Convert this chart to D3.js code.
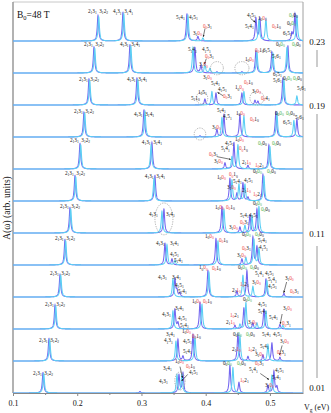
<!DOCTYPE html>
<html lang="en">
<head>
<meta charset="UTF-8">
<title>A(w) spectra</title>
<script src="https://cdn.jsdelivr.net/npm/d3@7"></script>
<style>
    body { margin: 0; background: #fff; }
    svg { display: block; font-family: "Liberation Serif", "DejaVu Serif", serif; }
</style>
</head>
<body>
<svg id="chart"></svg>
<script>
// one spectrum per row, top to bottom
var fields = [0.23, 0.21, 0.19, 0.17, 0.15, 0.13, 0.11, 0.09, 0.07, 0.05, 0.03, 0.01];
var fieldLabels = ["0.23", "0.19", "0.11", "0.01"];
var fieldLabelRows = [0, 2, 6, 11];
var xTicks = [0.1, 0.2, 0.3, 0.4, 0.5];
var xMinorTicks = [0.15, 0.25, 0.35, 0.45];

// peaks: [Vg (eV), height (arb.)]
var purplePeaks = [
    [[0.2323, 0.85], [0.2712, 0.95], [0.3708, 0.9], [0.3879, 0.15], [0.4782, 0.75], [0.4844, 0.75], [0.5342, 0.25], [0.5389, 0.9]],
    [[0.2261, 0.87], [0.2821, 0.95], [0.3833, 0.85], [0.3926, 0.25], [0.4175, 0.04], [0.4564, 0.04], [0.4782, 0.75], [0.5031, 0.7], [0.5280, 0.9]],
    [[0.2183, 0.87], [0.2930, 0.9], [0.3988, 0.2], [0.4160, 0.4], [0.4564, 0.4], [0.4767, 0.15], [0.4813, 0.12], [0.5202, 0.9]],
    [[0.2105, 0.83], [0.3039, 0.9], [0.3911, 0.04], [0.4175, 0.25], [0.4284, 0.75], [0.4533, 0.75], [0.5093, 0.85], [0.5420, 0.6]],
    [[0.2043, 0.85], [0.3163, 0.88], [0.4300, 0.2], [0.4440, 0.88], [0.4658, 0.12], [0.4984, 0.8]],
    [[0.1965, 0.85], [0.3210, 0.85], [0.4377, 0.75], [0.4486, 0.25], [0.4580, 0.6], [0.4658, 0.12], [0.4891, 0.88]],
    [[0.1887, 0.85], [0.3350, 0.8], [0.4253, 0.88], [0.4533, 0.2], [0.4689, 0.6], [0.4798, 0.8]],
    [[0.1809, 0.85], [0.3366, 0.72], [0.3475, 0.2], [0.4160, 0.88], [0.4564, 0.2], [0.4735, 0.92], [0.4798, 0.6]],
    [[0.1732, 0.75], [0.3521, 0.6], [0.3553, 0.2], [0.3599, 0.12], [0.4035, 0.88], [0.4486, 0.2], [0.4642, 0.88], [0.4938, 0.6], [0.5218, 0.12]],
    [[0.1654, 0.8], [0.3521, 0.66], [0.3568, 0.2], [0.3911, 0.88], [0.4455, 0.12], [0.4595, 0.7], [0.4735, 0.2], [0.4907, 0.66], [0.5156, 0.15]],
    [[0.1560, 0.75], [0.3568, 0.72], [0.3646, 0.15], [0.3802, 0.88], [0.4502, 0.92], [0.4658, 0.15], [0.4891, 0.2], [0.5031, 0.6], [0.5156, 0.12]],
    [[0.1467, 0.68], [0.2977, 0.05], [0.3584, 0.6], [0.3646, 0.66], [0.4377, 0.92], [0.4518, 0.35], [0.4969, 0.25], [0.5062, 0.72], [0.5109, 0.2]]
];
var cyanPeaks = [
    [[0.2335, 0.8], [0.2725, 0.9], [0.3724, 0.85], [0.3957, 0.1], [0.4829, 0.7], [0.4938, 0.75], [0.5420, 0.85]],
    [[0.2273, 0.82], [0.2835, 0.9], [0.3802, 0.85], [0.3988, 0.3], [0.4066, 0.15], [0.4798, 0.7], [0.5047, 0.65], [0.5265, 0.85]],
    [[0.2195, 0.82], [0.2945, 0.85], [0.4097, 0.45], [0.4595, 0.45], [0.5218, 0.85], [0.5420, 0.3]],
    [[0.2117, 0.8], [0.3055, 0.85], [0.4253, 0.65], [0.4595, 0.7], [0.5109, 0.8], [0.5373, 0.55]],
    [[0.2055, 0.8], [0.3150, 0.8], [0.4409, 0.4], [0.4502, 0.8], [0.5000, 0.75]],
    [[0.1977, 0.8], [0.3195, 0.75], [0.4409, 0.7], [0.4518, 0.55], [0.4611, 0.55], [0.4907, 0.82]],
    [[0.1899, 0.8], [0.3319, 0.72], [0.4284, 0.8], [0.4611, 0.25], [0.4720, 0.55], [0.4829, 0.88]],
    [[0.1821, 0.8], [0.3397, 0.68], [0.3521, 0.15], [0.4191, 0.8], [0.4626, 0.25], [0.4751, 0.85], [0.4829, 0.55]],
    [[0.1744, 0.72], [0.3490, 0.6], [0.4051, 0.82], [0.4580, 0.72], [0.4735, 0.35], [0.4953, 0.55]],
    [[0.1666, 0.76], [0.3490, 0.6], [0.3942, 0.82], [0.4533, 0.15], [0.4626, 0.88], [0.4798, 0.2], [0.4938, 0.6], [0.5202, 0.12]],
    [[0.1572, 0.72], [0.3537, 0.66], [0.3833, 0.82], [0.4533, 0.85], [0.4969, 0.55]],
    [[0.1479, 0.65], [0.3553, 0.6], [0.3630, 0.6], [0.4424, 0.85], [0.5031, 0.6]]
];

// state labels: [row, Vg, height, text, anchor]; "r"/"g" prefix = red/green
var peakLabels = [
    [0, 0.2323, 0.95, "2_1 3_1", "e"], [0, 0.2323, 0.95, "3_1 2_2", "s"],
    [0, 0.2712, 0.92, "4_1 3_1", "e"], [0, 0.2712, 0.92, "3_1 4_1", "s"],
    [0, 0.3693, 0.73, "5_1 4_1", "e"], [0, 0.3739, 0.73, "4_1 5_1"],
    [0, 0.3802, 0.2, "3_1 r0_0"], [0, 0.3957, 0.45, "r0_0 3_1"],
    [0, 0.4642, 0.8, "4_1 5_1"], [0, 0.4611, 0.45, "5_1 4_1"],
    [0, 0.4813, 0.7, "1_0 r0_0"], [0, 0.5031, 0.45, "r0_0 1_0"],
    [0, 0.5202, 0.2, "6_1 5_1"], [0, 0.5296, 0.8, "g0_0 0_0"], [0, 0.5265, 0.55, "0_0 g0_0"],

    [1, 0.2261, 0.9, "2_1 3_1", "e"], [1, 0.2261, 0.9, "3_1 2_2", "s"],
    [1, 0.2821, 0.9, "4_1 3_1", "e"], [1, 0.2821, 0.9, "3_1 4_1", "s"],
    [1, 0.3724, 0.72, "5_1 4_1"], [1, 0.3942, 0.72, "4_1 5_1"],
    [1, 0.3895, 0.22, "3_1 r0_0"], [1, 0.3988, 0.5, "r0_0 3_1"],
    [1, 0.4611, 0.4, "1_0 r0_0"], [1, 0.4767, 0.7, "r0_0 1_0"],
    [1, 0.4891, 0.7, "6_1 5_1"], [1, 0.5031, 0.5, "5_1 6_1"],
    [1, 0.5093, 0.9, "0_0 g0_0"], [1, 0.5342, 0.9, "g0_0 0_0"],

    [2, 0.2183, 0.8, "2_1 3_1", "e"], [2, 0.2183, 0.8, "3_1 2_2", "s"],
    [2, 0.2930, 0.8, "4_1 3_1", "e"], [2, 0.2930, 0.8, "3_1 4_1", "s"],
    [2, 0.3957, 0.88, "3_1 r0_0"], [2, 0.4082, 0.67, "5_1 4_1"], [2, 0.4191, 0.46, "4_1 5_1"],
    [2, 0.3880, 0.37, "1_0 5_1"], [2, 0.3770, 0.17, "5_1 1_0"], [2, 0.4268, 0.25, "r0_0 3_1"],
    [2, 0.4456, 0.52, "1_0 r0_0"], [2, 0.4595, 0.7, "r0_0 1_0"],
    [2, 0.4720, 0.4, "3_1 r0_0"], [2, 0.4860, 0.17, "r0_0 4_1"],
    [2, 0.5047, 0.97, "6_1 5_1"], [2, 0.5047, 0.77, "5_1 6_1"],
    [2, 0.5202, 0.85, "0_0 g0_0"], [2, 0.5358, 0.85, "g0_0 0_0"], [2, 0.5420, 0.5, "5_1 6_1"],

    [3, 0.2105, 0.8, "2_1 3_1", "e"], [3, 0.2105, 0.8, "3_1 2_2", "s"],
    [3, 0.3039, 0.7, "4_1 3_1", "e"], [3, 0.3039, 0.7, "3_1 4_1", "s"],
    [3, 0.4097, 0.27, "3_1 r0_0"], [3, 0.4175, 0.85, "5_1 4_1"], [3, 0.4268, 0.62, "4_1 5_1"],
    [3, 0.4471, 0.75, "1_0 r0_0"], [3, 0.4689, 0.55, "r0_0 1_0"],
    [3, 0.5078, 0.75, "0_0 g0_0"], [3, 0.5249, 0.75, "g0_0 0_0"],
    [3, 0.5202, 0.45, "6_1 5_1"], [3, 0.5389, 0.6, "5_1 6_1"],

    [4, 0.2043, 0.9, "2_1 3_1", "e"], [4, 0.2043, 0.9, "3_1 2_2", "s"],
    [4, 0.3163, 0.85, "4_1 3_1", "e"], [4, 0.3163, 0.85, "3_1 4_1", "s"],
    [4, 0.4455, 0.95, "1_0 r0_0"], [4, 0.4300, 0.8, "4_1 5_1"], [4, 0.4237, 0.62, "5_1 4_1"],
    [4, 0.4518, 0.62, "r0_0 1_0"], [4, 0.4050, 0.45, "r0_0 3_1"], [4, 0.4128, 0.2, "3_1 r0_0"],
    [4, 0.4564, 0.17, "2_1 r1_0"], [4, 0.4767, 0.08, "r1_0 2_1"],
    [4, 0.4813, 0.8, "g0_0 0_0"], [4, 0.5031, 0.8, "g0_0 0_0"],

    [5, 0.1965, 0.87, "2_1 3_1", "e"], [5, 0.1965, 0.87, "3_1 2_2", "s"],
    [5, 0.3210, 0.77, "4_1 3_1", "e"], [5, 0.3210, 0.77, "3_1 4_1", "s"],
    [5, 0.4175, 0.75, "1_0 r0_0"], [5, 0.4362, 0.82, "r0_0 1_0"],
    [5, 0.4424, 0.6, "5_1 4_1"], [5, 0.4595, 0.64, "4_1 5_1"], [5, 0.4331, 0.4, "3_1 r0_0"],
    [5, 0.4564, 0.3, "2_1 r1_0"], [5, 0.4735, 0.18, "r1_0 2_1"],
    [5, 0.4735, 0.95, "0_0 g0_0"], [5, 0.4953, 0.95, "g0_0 0_0"],

    [6, 0.1887, 0.83, "2_1 3_1", "e"], [6, 0.1887, 0.83, "3_1 2_2", "s"],
    [6, 0.3117, 0.57, "4_1 3_1"], [6, 0.3381, 0.57, "3_1 4_1"],
    [6, 0.4144, 0.8, "1_0 r0_0"], [6, 0.4315, 0.8, "r0_0 1_0"],
    [6, 0.4533, 0.55, "5_1 4_1"], [6, 0.4673, 0.55, "4_1 5_1"],
    [6, 0.4735, 0.95, "0_0 g0_0"], [6, 0.4860, 0.74, "g0_0 0_0"],
    [6, 0.4362, 0.15, "3_1 r0_0"], [6, 0.4533, 0.3, "r0_0 3_1"],

    [7, 0.1809, 0.83, "2_1 3_1", "e"], [7, 0.1809, 0.83, "3_1 2_2", "s"],
    [7, 0.3226, 0.67, "4_1 3_1"], [7, 0.3444, 0.67, "3_1 4_1"],
    [7, 0.3444, 0.3, "4_1 5_1"], [7, 0.3506, 0.1, "5_1 4_1"],
    [7, 0.3988, 0.9, "1_0 r0_0"], [7, 0.4206, 0.77, "r0_0 1_0"],
    [7, 0.4564, 0.97, "0_0 g0_0"], [7, 0.4767, 0.97, "g0_0 0_0"],
    [7, 0.4813, 0.76, "5_1 4_1"], [7, 0.4829, 0.52, "4_1 5_1"],
    [7, 0.4486, 0.28, "3_1 r0_0"], [7, 0.4564, 0.5, "r0_0 3_1"],

    [8, 0.1732, 0.75, "2_1 3_1", "e"], [8, 0.1732, 0.75, "3_1 2_2", "s"],
    [8, 0.3257, 0.6, "4_1 3_1"], [8, 0.3475, 0.6, "3_1 4_1"],
    [8, 0.3521, 0.35, "4_1 5_1"], [8, 0.3568, 0.15, "5_1 4_1"],
    [8, 0.3895, 0.92, "1_0 r0_0"], [8, 0.4097, 0.9, "r0_0 1_0"],
    [8, 0.4502, 0.95, "0_0 g0_0"], [8, 0.4689, 0.95, "g0_0 0_0"],
    [8, 0.4767, 0.72, "5_1 4_1"], [8, 0.4922, 0.75, "4_1 5_1"],
    [8, 0.4533, 0.38, "r1_0 2_1"], [8, 0.4408, 0.17, "2_1 r1_0"], [8, 0.4720, 0.45, "3_1 r0_0"],
    [8, 0.4969, 0.52, "5_1 4_1"], [8, 0.4969, 0.3, "4_1 5_1"],
    [8, 0.5233, 0.57, "3_1 r0_0"], [8, 0.5311, 0.14, "r0_0 3_1"],

    [9, 0.1654, 0.77, "2_1 3_1", "e"], [9, 0.1654, 0.77, "3_1 2_2", "s"],
    [9, 0.3319, 0.45, "4_1 3_1"], [9, 0.3521, 0.63, "3_1 4_1"],
    [9, 0.3568, 0.3, "4_1 5_1"], [9, 0.3599, 0.07, "5_1 4_1"],
    [9, 0.3786, 0.87, "1_0 r0_0"], [9, 0.3957, 0.87, "r0_0 1_0"],
    [9, 0.4580, 0.95, "0_0 g0_0"],
    [9, 0.4377, 0.4, "r1_0 2_1"], [9, 0.4315, 0.17, "2_1 r1_0"], [9, 0.4658, 0.17, "3_1 r0_0"],
    [9, 0.4813, 0.77, "4_1 5_1"], [9, 0.4813, 0.55, "5_1 4_1"], [9, 0.4984, 0.35, "5_1 4_1"],
    [9, 0.5202, 0.63, "3_1 r0_0"], [9, 0.5187, 0.12, "r0_0 3_1"],

    [10, 0.1560, 0.65, "2_1 3_1", "e"], [10, 0.1560, 0.65, "3_1 2_2", "s"],
    [10, 0.3381, 0.85, "3_1 4_1"], [10, 0.3350, 0.62, "4_1 3_1"],
    [10, 0.3630, 0.93, "1_0 r0_0"], [10, 0.3786, 0.76, "r0_0 1_0"],
    [10, 0.3646, 0.6, "4_1 5_1"], [10, 0.3646, 0.27, "5_1 4_1"],
    [10, 0.4424, 0.85, "0_0 g0_0"], [10, 0.4626, 0.85, "g0_0 0_0"],
    [10, 0.4408, 0.35, "2_1 r1_0"], [10, 0.4658, 0.35, "r1_0 2_1"],
    [10, 0.4875, 0.85, "5_1 4_1"], [10, 0.5047, 0.85, "4_1 5_1"], [10, 0.5156, 0.6, "3_1 r0_0"],
    [10, 0.4844, 0.45, "5_1 4_1"], [10, 0.4767, 0.17, "3_1 r0_0"], [10, 0.5109, 0.22, "r0_0 3_1"],

    [11, 0.1467, 0.6, "2_1 3_1", "e"], [11, 0.1467, 0.6, "3_1 2_2", "s"],
    [11, 0.3335, 0.77, "3_1 4_1"], [11, 0.3272, 0.33, "4_1 3_1"],
    [11, 0.3521, 1.0, "1_0 r0_0"], [11, 0.3693, 0.85, "r0_0 1_0"], [11, 0.3739, 0.65, "4_1 5_1"],
    [11, 0.4268, 0.95, "0_0 g0_0"], [11, 0.4486, 0.95, "g0_0 0_0"],
    [11, 0.4533, 0.37, "r1_0 2_1"], [11, 0.4767, 0.95, "r0_0 3_1"],
    [11, 0.4673, 0.72, "5_1 4_1"], [11, 0.5078, 0.7, "4_1 5_1"],
    [11, 0.5031, 0.48, "5_1 4_1"], [11, 0.4922, 0.2, "3_1 r0_0"]
];

// arrows: [row, Vg from, height from, Vg to, height to]
var arrows = [
    [0, 0.3990, 0.42, 0.3962, 0.14],
    [0, 0.4700, 0.75, 0.4775, 0.62],
    [1, 0.4010, 0.48, 0.3980, 0.3],
    [2, 0.4270, 0.31, 0.4185, 0.42],
    [4, 0.4180, 0.41, 0.4390, 0.32],
    [8, 0.5260, 0.5, 0.5215, 0.14],
    [9, 0.5190, 0.5, 0.5160, 0.17],
    [10, 0.5190, 0.52, 0.5150, 0.2],
    [11, 0.3600, 0.88, 0.3640, 0.5],
    [11, 0.3720, 0.62, 0.3625, 0.4],
    [11, 0.4850, 0.65, 0.4985, 0.45]
];

// dashed circles: [row, Vg, height, Vg radius, height radius]
var circles = [
    [1, 0.4175, 0.16, 0.010, 0.22],
    [1, 0.4564, 0.16, 0.011, 0.22],
    [2, 0.3942, 0.23, 0.009, 0.2],
    [2, 0.4798, 0.23, 0.011, 0.23],
    [3, 0.3911, 0.1, 0.009, 0.2],
    [6, 0.3350, 0.47, 0.014, 0.53],
    [11, 0.3599, 0.4, 0.008, 0.3]
];

var width = 331, height = 413;
var gamma = 0.0013;

var svg = d3.select("#chart").attr("width", width).attr("height", height);

var x = d3.scaleLinear().domain([0.1, 0.5515]).range([13, 303]);
var rowY = d3.scaleLinear().domain([0, fields.length - 1]).range([41, 393]);
var amp = d3.scaleLinear().domain([0, 1]).range([0, 30]);

// frame
svg.append("line").attr("x1", 13).attr("x2", 303).attr("y1", 2).attr("y2", 2).attr("stroke", "#c8c8c8");
svg.append("line").attr("x1", 303).attr("x2", 303).attr("y1", 2).attr("y2", 393).attr("stroke", "#a0a0a0");
svg.append("line").attr("x1", 13).attr("x2", 13).attr("y1", 2).attr("y2", 393).attr("stroke", "#999").attr("stroke-width", 1.5);

// spectra
var grid = d3.range(0.1, 0.5515, 0.00015);
function spectrum(peaks) {
    var vs = grid.concat(peaks.map(p => p[0])).sort(d3.ascending);
    return vs.map(function (v) {
        var s = 0;
        peaks.forEach(function (p) {
            var d = v - p[0];
            s += p[1] * gamma * gamma / (d * d + gamma * gamma);
        });
        return [v, Math.min(s, 1.1)];
    });
}

var plot = svg.append("g");
fields.forEach(function (f, i) {
    var line = d3.line().x(d => x(d[0])).y(d => rowY(i) - amp(d[1]));
    plot.append("path").attr("d", line(spectrum(purplePeaks[i])))
        .attr("fill", "none").attr("stroke", "#7467f0").attr("stroke-width", 1.1);
    plot.append("path").attr("d", line(spectrum(cyanPeaks[i])))
        .attr("fill", "none").attr("stroke", "#5ccff4").attr("stroke-width", 1.1);
});

// dashed circles
svg.selectAll(".ring").data(circles).enter().append("ellipse")
    .attr("cx", d => x(d[1]))
    .attr("cy", d => rowY(d[0]) - amp(d[2]))
    .attr("rx", d => x(d[1] + d[3]) - x(d[1]))
    .attr("ry", d => amp(d[4]))
    .attr("fill", "none").attr("stroke", "#999").attr("stroke-width", 0.8)
    .attr("stroke-dasharray", "1.2,1.2");

// arrows
svg.append("defs").append("marker").attr("id", "head")
    .attr("viewBox", "0 0 10 10").attr("refX", 9).attr("refY", 5)
    .attr("markerWidth", 4).attr("markerHeight", 4).attr("orient", "auto")
    .append("path").attr("d", "M0,1L10,5L0,9z").attr("fill", "#222");
svg.selectAll(".arrow").data(arrows).enter().append("line")
    .attr("x1", d => x(d[1])).attr("y1", d => rowY(d[0]) - amp(d[2]))
    .attr("x2", d => x(d[3])).attr("y2", d => rowY(d[0]) - amp(d[4]))
    .attr("stroke", "#222").attr("stroke-width", 0.6).attr("marker-end", "url(#head)");

// state labels
var colors = { r: "#ee4040", g: "#3fb04a" };
var labels = svg.append("g").attr("font-size", 5.2);
peakLabels.forEach(function (d) {
    var pad = d[4] === "e" ? -1.3 : d[4] === "s" ? 1.3 : 0;
    var t = labels.append("text")
        .attr("x", x(d[1]) + pad)
        .attr("y", rowY(d[0]) - amp(d[2]))
        .attr("text-anchor", d[4] === "e" ? "end" : "start");
    var shift = 0;
    d[3].split(" ").forEach(function (tok) {
        var col = "#111";
        if (colors[tok[0]]) { col = colors[tok[0]]; tok = tok.slice(1); }
        var p = tok.split("_");
        t.append("tspan").attr("fill", col).attr("dy", -shift).text(p[0]);
        t.append("tspan").attr("fill", col).attr("font-size", 3.6).attr("dy", 1.2).text(p[1]);
        shift = 1.2;
    });
});

// x axis
var axis = svg.append("g").attr("transform", "translate(0,393)")
    .call(d3.axisBottom(x).tickValues(xTicks).tickFormat(d3.format(".1f")).tickSize(3).tickSizeOuter(0));
axis.select(".domain").attr("stroke", "#888");
axis.selectAll(".tick line").attr("stroke", "#888");
axis.selectAll("text").attr("font-size", 8).attr("font-family", "Liberation Serif").attr("fill", "#111").attr("dy", "0.9em");
svg.append("g").attr("transform", "translate(0,393)")
    .call(d3.axisBottom(x).tickValues(xMinorTicks).tickFormat("").tickSize(2).tickSizeOuter(0))
    .call(g => g.select(".domain").remove())
    .selectAll("line").attr("stroke", "#888");

// axis titles
svg.append("text").attr("transform", "translate(10,208) rotate(-90)")
    .attr("text-anchor", "middle").attr("font-size", 9.5).attr("fill", "#111")
    .text("A(ω) (arb. units)");
var vg = svg.append("text").attr("x", 304).attr("y", 410).attr("font-size", 8).attr("fill", "#111");
vg.append("tspan").text("V");
vg.append("tspan").attr("font-size", 5.5).attr("dy", 2).text("g");
vg.append("tspan").attr("dy", -2).text(" (eV)");

var b0 = svg.append("text").attr("x", 17).attr("y", 18).attr("font-size", 9.5).attr("fill", "#111");
b0.append("tspan").text("B");
b0.append("tspan").attr("font-size", 6.5).attr("dy", 2).text("0");
b0.append("tspan").attr("dy", -2).text("=48 T");

// field values on the right
fieldLabels.forEach(function (s, k) {
    svg.append("text").attr("x", 317).attr("y", rowY(fieldLabelRows[k]) + (k === 3 ? -2 : 4))
        .attr("text-anchor", "middle").attr("font-size", 9).attr("fill", "#111").text(s);
});
var bars = [[rowY(0) + 9, rowY(1) - 6], [rowY(2) + 9, rowY(5) + 8], [rowY(6) + 13, rowY(11) - 15]];
bars.forEach(function (b) {
    svg.append("line").attr("x1", 317).attr("x2", 317).attr("y1", b[0]).attr("y2", b[1])
        .attr("stroke", "#999").attr("stroke-width", 1);
});
</script>
</body>
</html>
